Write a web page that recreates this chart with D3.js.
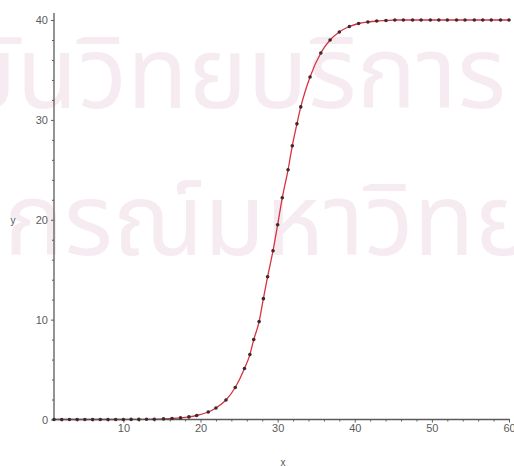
<!DOCTYPE html>
<html>
<head>
<meta charset="utf-8">
<script src="https://cdn.jsdelivr.net/npm/d3@7"></script>
<style>
  body { margin: 0; background: #fff; }
  text { font-family: "Liberation Sans", Arial, sans-serif; }
</style>
</head>
<body>
<div id="plot"></div>
<script>
// sample points of the curve
const xs = [1, 2, 3, 4, 5, 6, 7, 8, 9, 10, 11, 12, 13, 14,
  15.2, 16.3, 17.4, 18.5, 19.5, 21.0, 22.0, 23.3, 24.5, 25.7, 26.4, 26.9,
  27.6, 28.15, 28.7, 29.4, 30.0, 30.6, 31.35, 31.9, 32.5, 33.0, 34.2, 35.6,
  36.8, 38.0, 39.3, 40.5, 41.7, 42.85, 44.05, 45.2, 46.3, 47.5, 48.6, 49.8,
  50.9, 52.0, 53.2, 54.3, 55.5, 56.6, 57.7, 58.9, 60.0];
const ys = [0, 0, 0, 0, 0, 0, 0, 0, 0, 0, 0.01, 0.01, 0.02, 0.03,
  0.06, 0.1, 0.16, 0.26, 0.4, 0.75, 1.15, 1.95, 3.2, 5.1, 6.5, 8.0,
  9.8, 12.1, 14.3, 16.9, 19.5, 22.2, 25.0, 27.4, 29.6, 31.3, 34.3, 36.7,
  38.0, 38.8, 39.35, 39.65, 39.8, 39.9, 39.95, 40, 40, 40, 40, 40,
  40, 40, 40, 40, 40, 40, 40, 40, 40];

const xTicks = [10, 20, 30, 40, 50, 60];
const yTicks = [0, 10, 20, 30, 40];
const xMinor = [2, 4, 6, 8, 12, 14, 16, 18, 22, 24, 26, 28, 32, 34, 36, 38, 42, 44, 46, 48, 52, 54, 56, 58];
const yMinor = [2, 4, 6, 8, 12, 14, 16, 18, 22, 24, 26, 28, 32, 34, 36, 38];

const width = 514, height = 467;
const axisColor = "#5a5a5a";

const svg = d3.select("div#plot")
  .append("svg")
    .attr("width", width)
    .attr("height", height);

// faint watermark behind the plot
svg.append("text")
  .attr("x", 506).attr("y", 108)
  .attr("text-anchor", "end")
  .style("font-family", "'Noto Sans Thai', 'Noto Sans', sans-serif")
  .style("font-size", "100px")
  .style("fill", "#f6ebf1")
  .text("สถาบันวิทยบริการ");
svg.append("text")
  .attr("x", 4).attr("y", 255)
  .style("font-family", "'Noto Sans Thai', 'Noto Sans', sans-serif")
  .style("font-size", "100px")
  .style("fill", "#f6ebf1")
  .text("กรณ์มหาวิทยาลัย");

const x = d3.scaleLinear().domain([1, 60]).range([54, 509]);
const y = d3.scaleLinear().domain([0, 40]).range([419.5, 20]);

const pts = xs.map((d, i) => [d, ys[i]]);

// curve
svg.append("path")
  .datum(pts)
  .attr("d", d3.line().x(d => x(d[0])).y(d => y(d[1])).curve(d3.curveMonotoneX))
  .attr("fill", "none")
  .attr("stroke", "#d8323f")
  .attr("stroke-width", 1.3);

// axes lines
svg.append("line")
  .attr("x1", x(1)).attr("x2", 510)
  .attr("y1", y(0)).attr("y2", y(0))
  .attr("stroke", axisColor).attr("stroke-width", 1.3);
svg.append("line")
  .attr("x1", x(1)).attr("x2", x(1))
  .attr("y1", 13).attr("y2", y(0))
  .attr("stroke", axisColor).attr("stroke-width", 1.3);

// major ticks
svg.append("g")
  .attr("transform", `translate(0,${y(0)})`)
  .call(d3.axisBottom(x).tickValues(xTicks).tickSize(3).tickPadding(2));
svg.append("g")
  .attr("transform", `translate(${x(1)},0)`)
  .call(d3.axisLeft(y).tickValues(yTicks).tickSize(3).tickPadding(3));
// minor ticks
svg.append("g")
  .attr("transform", `translate(0,${y(0)})`)
  .call(d3.axisBottom(x).tickValues(xMinor).tickSize(2).tickFormat(""));
svg.append("g")
  .attr("transform", `translate(${x(1)},0)`)
  .call(d3.axisLeft(y).tickValues(yMinor).tickSize(2).tickFormat(""));

svg.selectAll(".domain").remove();
svg.selectAll(".tick line").attr("stroke", axisColor);
svg.selectAll(".tick text")
  .style("font-family", "'Liberation Sans', Arial, sans-serif")
  .style("font-size", "11px")
  .attr("fill", "#5c5c5c");

// points
svg.selectAll("circle.pt")
  .data(pts)
  .join("circle")
  .attr("class", "pt")
  .attr("cx", d => x(d[0]))
  .attr("cy", d => y(d[1]))
  .attr("r", 1.8)
  .attr("fill", "#3d2a30");

// axis titles
svg.append("text")
  .attr("x", 13).attr("y", 224)
  .attr("text-anchor", "middle")
  .style("font-size", "10px")
  .style("fill", "#555")
  .text("y");
svg.append("text")
  .attr("x", 283).attr("y", 466)
  .attr("text-anchor", "middle")
  .style("font-size", "10px")
  .style("fill", "#555")
  .text("x");
</script>
</body>
</html>
